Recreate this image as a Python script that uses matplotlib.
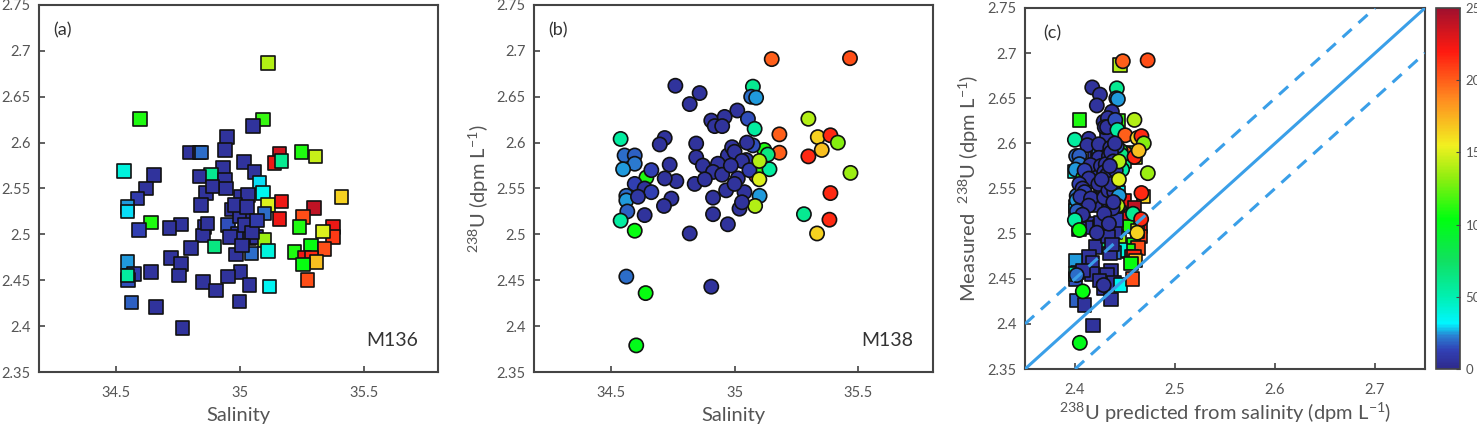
import matplotlib
matplotlib.use("Agg")
import matplotlib.pyplot as plt
from matplotlib.colors import LinearSegmentedColormap

plt.rcParams['font.family'] = ['Lato', 'DejaVu Sans']
plt.rcParams['mathtext.fontset'] = 'custom'
plt.rcParams['mathtext.rm'] = 'Lato'
plt.rcParams['mathtext.it'] = 'Lato:italic'

# M136 cruise (squares): salinity, measured 238U, colour value
sal_136 = [35.115, 34.598, 35.094, 35.053, 34.949, 34.941, 34.797, 34.837, 34.845, 35.249,
           35.306, 35.161, 35.141, 35.168, 35.017, 34.534, 34.932, 35.060, 34.655, 34.885,
           34.837, 34.941, 34.621, 34.945, 35.080, 35.094, 34.864, 34.588, 35.006, 35.033,
           35.411, 35.114, 35.168, 34.844, 34.547, 34.547, 35.300, 34.966, 35.100, 35.256,
           35.161, 34.642, 34.763, 34.716, 34.594, 34.858, 34.952, 35.026, 35.242, 35.377,
           35.377, 35.337, 34.851, 34.993, 35.040, 35.067, 35.100, 34.898, 34.804, 35.287,
           35.343, 35.222, 35.114, 35.047, 34.723, 34.986, 35.262, 35.290, 35.310, 35.256,
           34.547, 34.763, 34.756, 34.574, 34.550, 34.547, 34.642, 35.003, 34.952, 34.851,
           34.905, 35.040, 35.121, 35.273, 34.563, 34.662, 34.999, 34.770, 35.000, 35.020,
           35.050, 34.980, 35.030, 34.870, 34.960, 35.010, 34.890, 35.070]
u_136 = [2.687, 2.626, 2.625, 2.618, 2.606, 2.592, 2.589, 2.589, 2.589, 2.590,
         2.585, 2.588, 2.578, 2.580, 2.579, 2.569, 2.573, 2.568, 2.565, 2.565,
         2.563, 2.559, 2.550, 2.550, 2.556, 2.545, 2.545, 2.539, 2.541, 2.543,
         2.541, 2.532, 2.536, 2.532, 2.530, 2.525, 2.529, 2.527, 2.523, 2.519,
         2.517, 2.513, 2.511, 2.507, 2.505, 2.508, 2.510, 2.516, 2.508, 2.508,
         2.497, 2.503, 2.499, 2.501, 2.496, 2.497, 2.494, 2.487, 2.485, 2.488,
         2.484, 2.481, 2.482, 2.479, 2.474, 2.478, 2.474, 2.474, 2.470, 2.467,
         2.470, 2.468, 2.455, 2.457, 2.450, 2.455, 2.459, 2.459, 2.454, 2.448,
         2.439, 2.445, 2.443, 2.450, 2.426, 2.421, 2.427, 2.398, 2.520, 2.510,
         2.502, 2.532, 2.530, 2.512, 2.497, 2.488, 2.552, 2.515]
val_136 = [140, 110, 115, 5, 5, 5, 5, 8, 20, 110,
           145, 235, 225, 60, 5, 40, 5, 5, 5, 60,
           5, 5, 5, 5, 30, 35, 5, 10, 5, 5,
           165, 150, 225, 5, 25, 30, 240, 5, 20, 205,
           225, 110, 5, 5, 12, 5, 15, 5, 110, 225,
           210, 150, 5, 8, 5, 5, 135, 65, 5, 105,
           205, 110, 40, 20, 5, 5, 225, 215, 170, 105,
           25, 5, 5, 10, 15, 55, 5, 5, 5, 5,
           5, 5, 35, 205, 18, 5, 5, 5, 5, 5,
           5, 5, 5, 5, 5, 5, 5, 10]

# M138 cruise (circles)
sal_138 = [35.150, 35.466, 34.761, 34.859, 34.819, 35.074, 35.067, 35.087, 35.011, 34.906,
           34.960, 34.920, 34.950, 35.054, 35.298, 35.081, 35.181, 34.540, 34.718, 34.698,
           34.845, 35.336, 35.387, 35.417, 34.556, 34.597, 34.597, 35.181, 35.120, 35.134,
           35.298, 35.352, 34.845, 34.973, 35.047, 34.990, 35.074, 34.550, 34.738, 34.872,
           34.933, 35.087, 35.108, 35.141, 35.468, 34.644, 34.664, 34.765, 34.718, 34.839,
           34.913, 35.013, 34.597, 34.563, 34.563, 34.637, 34.664, 34.610, 34.745, 34.913,
           34.966, 35.040, 35.101, 35.387, 34.715, 35.083, 35.020, 34.567, 34.637, 34.913,
           35.280, 34.973, 34.540, 35.383, 34.597, 34.819, 35.333, 34.563, 34.906, 34.641,
           34.603, 35.000, 35.030, 34.950, 35.060, 35.000, 34.880, 35.050, 35.100, 35.100,
           34.985, 35.030]
u_138 = [2.691, 2.692, 2.662, 2.654, 2.642, 2.661, 2.650, 2.649, 2.635, 2.624,
         2.628, 2.618, 2.618, 2.626, 2.626, 2.615, 2.609, 2.604, 2.605, 2.598,
         2.599, 2.606, 2.608, 2.600, 2.586, 2.586, 2.577, 2.589, 2.592, 2.587,
         2.585, 2.592, 2.584, 2.586, 2.581, 2.595, 2.597, 2.571, 2.576, 2.575,
         2.577, 2.564, 2.571, 2.571, 2.567, 2.562, 2.570, 2.558, 2.561, 2.555,
         2.568, 2.561, 2.555, 2.542, 2.537, 2.550, 2.546, 2.541, 2.539, 2.540,
         2.548, 2.546, 2.542, 2.545, 2.531, 2.531, 2.528, 2.525, 2.521, 2.522,
         2.522, 2.511, 2.515, 2.516, 2.504, 2.501, 2.501, 2.454, 2.443, 2.436,
         2.379, 2.590, 2.580, 2.565, 2.570, 2.555, 2.560, 2.600, 2.580, 2.560,
         2.575, 2.535]
val_138 = [200, 205, 5, 5, 5, 60, 20, 25, 5, 5,
           5, 5, 5, 15, 140, 55, 200, 55, 5, 5,
           5, 165, 215, 130, 20, 18, 22, 200, 110, 65,
           215, 170, 5, 5, 8, 5, 15, 25, 5, 5,
           5, 205, 115, 55, 135, 110, 12, 5, 5, 5,
           5, 5, 12, 20, 25, 5, 12, 8, 5, 5,
           5, 5, 25, 215, 5, 140, 5, 18, 5, 5,
           60, 5, 55, 215, 105, 5, 165, 20, 5, 105,
           100, 5, 5, 5, 10, 5, 5, 5, 140, 150,
           5, 5]

# 238U = slope * S + intercept (salinity relation used for panel c)
U_SLOPE = 0.0786
U_INTERCEPT = -0.315
cbar_ticks = [0, 50, 100, 150, 200, 250]

cmap = LinearSegmentedColormap.from_list('depth', [
    (0.0, '#2f2a8c'), (0.05, '#3140b4'), (0.09, '#2a7fd2'), (0.125, '#00f6ff'),
    (0.2, '#00f0b0'), (0.3, '#10e060'), (0.415, '#00ff10'), (0.53, '#90ee10'),
    (0.62, '#f2f020'), (0.75, '#ff8a20'), (0.88, '#ff1a10'), (1.0, '#a0102e')])

TXT = '#555555'
SPINE = '#444444'


def style(ax):
    for s in ax.spines.values():
        s.set_color(SPINE)
        s.set_linewidth(1.5)
    ax.tick_params(direction='in', length=4, width=1.2, color=SPINE,
                   labelcolor=TXT, labelsize=10.5, pad=10)
    ax.set_ylim(2.35, 2.75)
    ax.set_yticks([2.35, 2.4, 2.45, 2.5, 2.55, 2.6, 2.65, 2.7, 2.75])
    ax.set_yticklabels(['2.35', '2.4', '2.45', '2.5', '2.55', '2.6', '2.65', '2.7', '2.75'])
    ax.tick_params(axis='y', pad=6)


fig = plt.figure(figsize=(14.77, 4.37), dpi=100)
ax1 = fig.add_axes([0.0264, 0.1487, 0.2701, 0.8399])
ax2 = fig.add_axes([0.3615, 0.1487, 0.2700, 0.8399])
ax3 = fig.add_axes([0.6940, 0.1556, 0.2708, 0.8261])
cax = fig.add_axes([0.9723, 0.1556, 0.0163, 0.8261])

kw = dict(cmap=cmap, vmin=0, vmax=250, edgecolors='#111111', linewidths=1.2)

ax1.scatter(sal_136, u_136, c=val_136, marker='s', s=95, **kw)
ax2.scatter(sal_138, u_138, c=val_138, marker='o', s=105, **kw)

for ax, tag, cruise in [(ax1, '(a)', 'M136'), (ax2, '(b)', 'M138')]:
    style(ax)
    ax.set_xlim(34.19, 35.8)
    ax.set_xticks([34.5, 35, 35.5])
    ax.set_xticklabels(['34.5', '35', '35.5'])
    ax.set_xlabel('Salinity', fontsize=14.5, color=TXT, labelpad=5)
    ax.text(0.035, 0.93, tag, transform=ax.transAxes, fontsize=13, color='#333333', va='center')
    ax.text(0.95, 0.085, cruise, transform=ax.transAxes, fontsize=14, color='#333333',
            ha='right', va='center')

ax2.set_ylabel('$^{238}$U (dpm L$^{-1}$)', fontsize=14.5, color=TXT, labelpad=4)

pred_136 = [U_SLOPE * s + U_INTERCEPT for s in sal_136]
pred_138 = [U_SLOPE * s + U_INTERCEPT for s in sal_138]
ax3.scatter(pred_136, u_136, c=val_136, marker='s', s=95, **kw)
sc = ax3.scatter(pred_138, u_138, c=val_138, marker='o', s=105, **kw)

for off, ls in [(0, '-'), (0.05, (0, (4, 3))), (-0.05, (0, (4, 3)))]:
    ax3.axline((2.5, 2.5 + off), slope=1, color='#3a9fe8', lw=2.2, ls=ls, zorder=3)

style(ax3)
ax3.set_xlim(2.35, 2.75)
ax3.set_xticks([2.4, 2.5, 2.6, 2.7])
ax3.set_xticklabels(['2.4', '2.5', '2.6', '2.7'])
ax3.set_xlabel('$^{238}$U predicted from salinity (dpm L$^{-1}$)', fontsize=14.5,
               color=TXT, labelpad=3)
ax3.set_ylabel('Measured  $^{238}$U (dpm L$^{-1}$)', fontsize=14.5, color=TXT, labelpad=5)
ax3.text(0.046, 0.93, '(c)', transform=ax3.transAxes, fontsize=13, color='#333333', va='center')

# colour bar sits at the right edge; its labels run off the figure as in the original
cb = fig.colorbar(sc, cax=cax, ticks=cbar_ticks)
cb.outline.set_edgecolor(SPINE)
cb.outline.set_linewidth(1.2)
cax.tick_params(direction='in', length=3, color=SPINE, labelcolor=TXT, labelsize=9.5, pad=4)

fig.savefig('out.png', dpi=100)
